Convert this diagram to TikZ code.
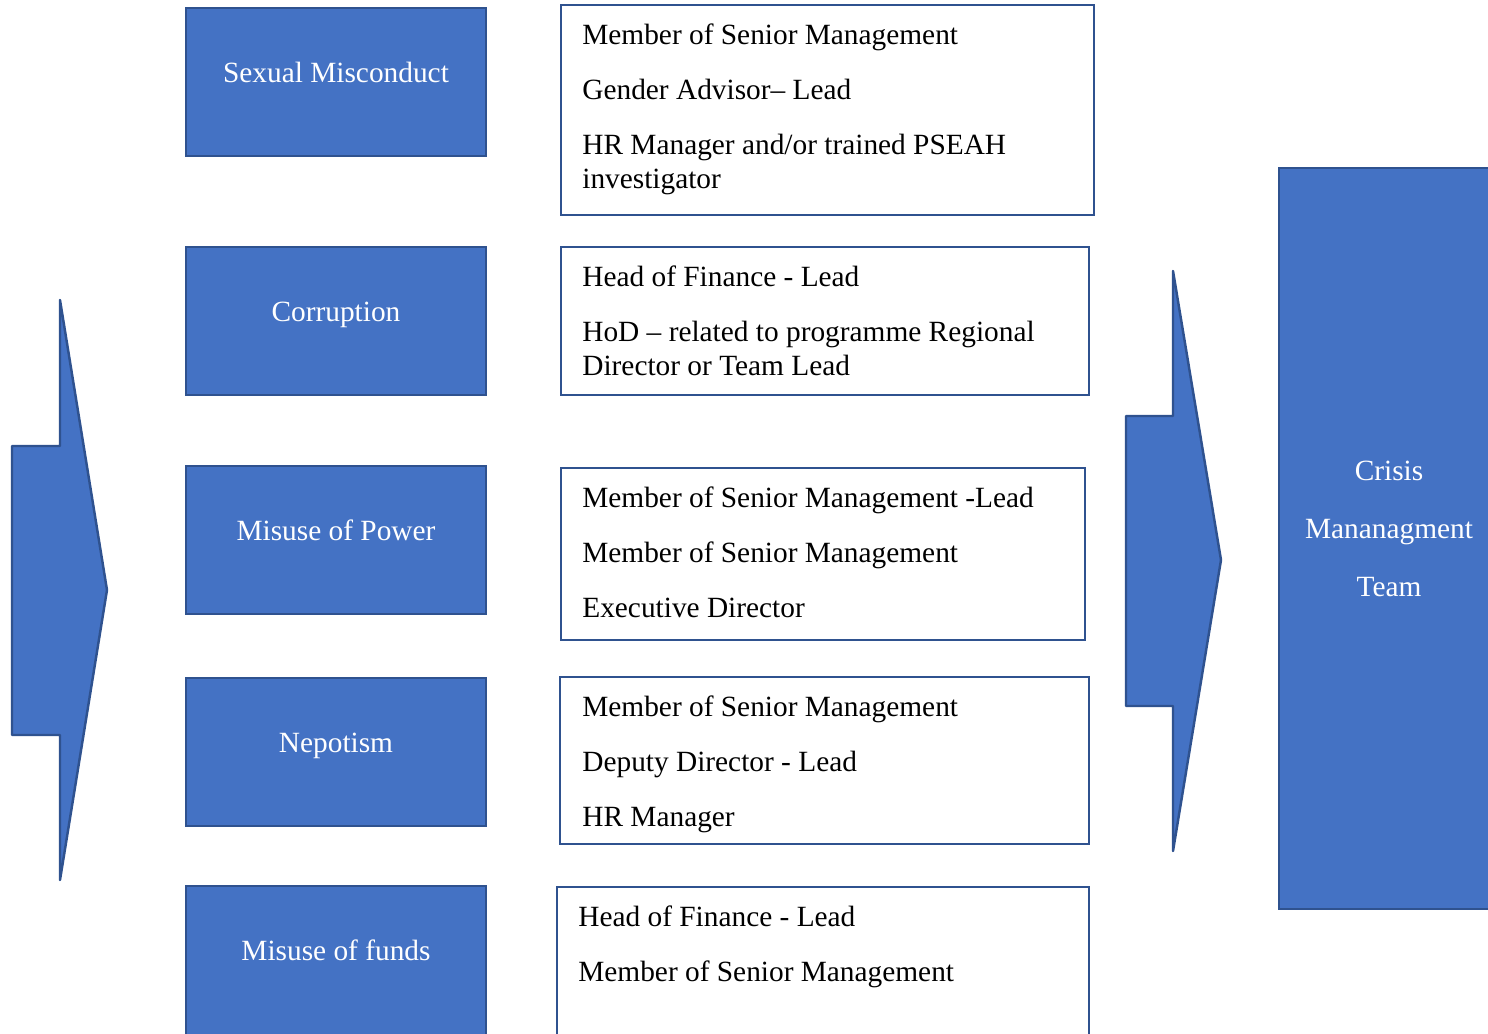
\documentclass[tikz,border=0pt]{standalone}
\usepackage{fontspec}
\setmainfont{Liberation Serif}
\usepackage{tkz-euclide}
\definecolor{BoxClr}{HTML}{4472C4}
\definecolor{EdgeClr}{HTML}{2F528F}
\tikzset{
  catbox/.style={fill=BoxClr,draw=EdgeClr,line width=1.5pt},
  rolebox/.style={draw=EdgeClr,line width=1.4pt},
  catlabel/.style={anchor=base,text=white,inner sep=0pt,font=\fontsize{16.7}{20}\selectfont},
  rolelist/.style={anchor=north west,inner sep=0pt,align=left,font=\fontsize{16.7}{19.35}\selectfont}
}

\begin{document}
\begin{tikzpicture}
\useasboundingbox (0,0) rectangle (29.76,20.66);
\clip (0,0) rectangle (29.76,20.66);
\tkzSetUpLine[line width=1.4pt,color=EdgeClr]

% Κορυφές των δύο βελών.
\tkzDefPoints{1.2/14.66/L1,2.14/8.86/L2,1.2/3.06/L3,1.2/5.96/L4,0.24/5.96/L5,0.24/11.74/L6,1.2/11.74/L7}
\tkzDefPoints{23.46/15.24/R1,24.42/9.46/R2,23.46/3.64/R3,23.46/6.54/R4,22.52/6.54/R5,22.52/12.34/R6,23.46/12.34/R7}

\tkzFillPolygon[fill=BoxClr](L1,L2,L3,L4,L5,L6,L7)
\tkzDrawPolygon(L1,L2,L3,L4,L5,L6,L7)
\tkzFillPolygon[fill=BoxClr](R1,R2,R3,R4,R5,R6,R7)
\tkzDrawPolygon(R1,R2,R3,R4,R5,R6,R7)

% Κατηγορίες (μπλε ορθογώνια).
\draw[catbox] (3.72,20.5) rectangle (9.72,17.54);
\draw[catbox] (3.72,15.72) rectangle (9.72,12.76);
\draw[catbox] (3.72,11.34) rectangle (9.72,8.38);
\draw[catbox] (3.72,7.1) rectangle (9.72,4.14);
\draw[catbox] (3.72,2.94) rectangle (9.72,-0.5);

\node[catlabel] (sexual) at (6.72,19.0) {Sexual Misconduct};
\node[catlabel] (corruption) at (6.72,14.22) {Corruption};
\node[catlabel] (power) at (6.72,9.84) {Misuse of Power};
\node[catlabel] (nepotism) at (6.72,5.62) {Nepotism};
\node[catlabel] (funds) at (6.72,1.46) {Misuse of funds};

% Υπεύθυνοι (λευκά ορθογώνια).
\draw[rolebox] (11.22,20.56) rectangle (21.88,16.36);
\draw[rolebox] (11.22,15.72) rectangle (21.78,12.76);
\draw[rolebox] (11.22,11.3) rectangle (21.70,7.86);
\draw[rolebox] (11.2,7.12) rectangle (21.78,3.78);
\draw[rolebox] (11.14,2.92) rectangle (21.78,-0.5);

\node[rolelist] (sexualroles) at (11.64,20.2) {Member of Senior Management\\[11.95pt]
  Gender Advisor– Lead\\[11.95pt]
  HR Manager and/or trained PSEAH\\ investigator};
\node[rolelist] (corruptionroles) at (11.64,15.36) {Head of Finance - Lead\\[11.95pt]
  HoD – related to programme Regional\\ Director or Team Lead};
\node[rolelist] (powerroles) at (11.64,10.94) {Member of Senior Management -Lead\\[11.95pt]
  Member of Senior Management\\[11.95pt]
  Executive Director};
\node[rolelist] (nepotismroles) at (11.64,6.76) {Member of Senior Management\\[11.95pt]
  Deputy Director - Lead\\[11.95pt]
  HR Manager};
\node[rolelist] (fundsroles) at (11.56,2.56) {Head of Finance - Lead\\[11.95pt]
  Member of Senior Management};

% Ομάδα διαχείρισης κρίσεων.
\draw[catbox] (25.58,17.3) rectangle (30.2,2.48);
\node[catlabel,anchor=center,align=center,font=\fontsize{16.7}{33}\selectfont] (crisis) at (27.78,10.08) {Crisis\\ Mananagment\\ Team};

\end{tikzpicture}
\end{document}
